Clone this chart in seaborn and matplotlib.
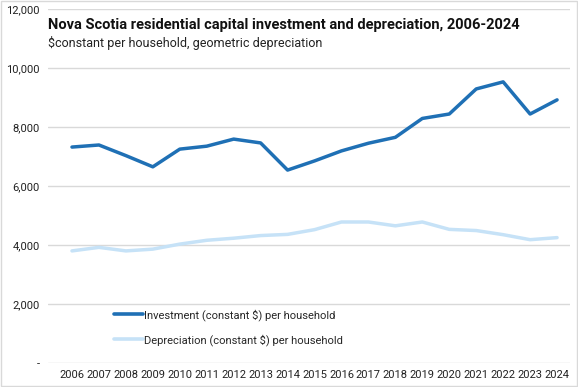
#------------------------------------------------------------------------------
# Libraries
#------------------------------------------------------------------------------

import numpy as np
import pandas as pd
import seaborn as sns
import matplotlib.pyplot as plt
from matplotlib.ticker import FuncFormatter

#------------------------------------------------------------------------------
# Data
#------------------------------------------------------------------------------

years = list(range(2006, 2025))
investment = [7320, 7390, 7030, 6650, 7250, 7350, 7590, 7460, 6540, 6850,
              7190, 7450, 7650, 8290, 8440, 9290, 9530, 8440, 8920]
depreciation = [3800, 3920, 3800, 3860, 4030, 4160, 4230, 4320, 4360, 4520,
                4780, 4780, 4650, 4780, 4530, 4490, 4350, 4180, 4250]
series_names = ['Investment (constant $) per household',
                'Depreciation (constant $) per household']
title = 'Nova Scotia residential capital investment and depreciation, 2006-2024'
subtitle = '$constant per household, geometric depreciation'

df = pd.DataFrame({
    'year': years * 2,
    'value': investment + depreciation,
    'series': [series_names[0]] * len(years) + [series_names[1]] * len(years),
})

#------------------------------------------------------------------------------
# Plot
#------------------------------------------------------------------------------

sns.set_theme(style='white')
plt.rcParams['font.family'] = ['Roboto', 'DejaVu Sans']

fig = plt.figure(figsize=(5.78, 3.87), dpi=100)
ax = fig.add_axes([48 / 578, 1 - 363 / 387, 522 / 578, 354 / 387])

palette = {series_names[0]: '#1f70b5', series_names[1]: '#c6e2f7'}
sns.lineplot(data=df, x='year', y='value', hue='series', palette=palette,
             linewidth=2.5, ax=ax, legend=True)

ax.set_xlim(2005.11, 2024.48)
ax.set_ylim(0, 12000)
ax.set_xticks(years)
ax.set_yticks(np.arange(0, 12001, 2000))
ax.yaxis.set_major_formatter(FuncFormatter(lambda v, p: '-' if v == 0 else f'{int(v):,}'))
ax.tick_params(axis='both', labelsize=8, colors='#222222', length=0, pad=5)
ax.tick_params(axis='y', pad=6)
ax.grid(axis='y', color='#d9d9d9', linewidth=1)
ax.set_xlabel('')
ax.set_ylabel('')
for s in ax.spines.values():
    s.set_visible(False)

ax.text(0.0, 0.955, title, transform=ax.transAxes, fontsize=10.5,
        fontweight='bold', color='#111111', va='center')
ax.text(0.0, 0.903, subtitle, transform=ax.transAxes, fontsize=9,
        color='#222222', va='center')

leg = ax.legend(loc='lower left', bbox_to_anchor=(0.108, 0.02), frameon=False,
                fontsize=8, handlelength=2.6, handletextpad=0.1, labelspacing=1.2)
for line in leg.get_lines():
    line.set_linewidth(2.6)

# figure border
fig.patches.append(plt.Rectangle((0.002, 0.002), 0.996, 0.996, transform=fig.transFigure,
                                 fill=False, edgecolor='#d9d9d9', linewidth=1))

fig.savefig('out.png', dpi=100)
